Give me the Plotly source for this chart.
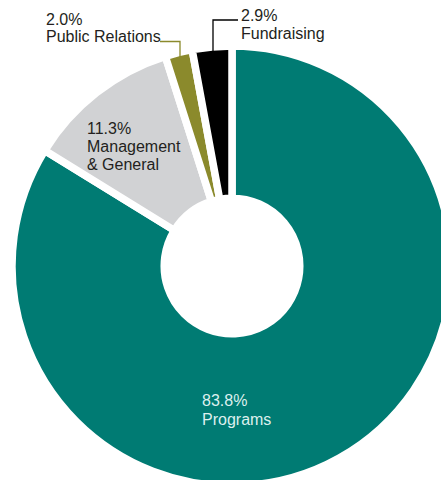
import plotly.graph_objects as go

labels = ["Programs", "Management & General", "Public Relations", "Fundraising"]
values = [83.8, 11.3, 2.0, 2.9]
colors = ["#007B73", "#D1D2D4", "#8B8A2C", "#000000"]

# layout geometry (page pixels)
OFF = 0          # body margin of the page (reset below)
ML, MT, SIDE = 12, 46, 440
W, H = ML + SIDE, MT + SIDE
GAP = 7.5


def px(x):
    return (x - OFF - ML) / SIDE


def py(y):
    return 1 - (y - OFF - MT) / SIDE


fig = go.Figure(go.Pie(
    labels=labels, values=values, sort=False, direction="clockwise", rotation=0,
    hole=0.308, marker=dict(colors=colors, line=dict(color="white", width=GAP)),
    textinfo="none", hoverinfo="label+percent", showlegend=False,
))

FONT = "Liberation Sans"
dark = "#231F20"
light = "#DDF0EE"
text_lines = [
    ("2.0%", 45, 19, dark),
    ("Public Relations", 45, 36, dark),
    ("2.9%", 240, 15.5, dark),
    ("Fundraising", 240, 34, dark),
    ("11.3%", 86, 128.5, dark),
    ("Management", 86, 146, dark),
    ("& General", 86, 164, dark),
    ("83.8%", 201, 400.5, light),
    ("Programs", 201, 419, light),
]
for t, x, y, c in text_lines:
    fig.add_annotation(text=t, x=px(x), y=py(y), xref="paper", yref="paper",
                       xanchor="left", yanchor="middle", showarrow=False,
                       font=dict(family=FONT, size=16, color=c), borderpad=0)

# leader lines
fig.add_shape(type="path", xref="paper", yref="paper",
              path=f"M {px(160)} {py(41.5)} L {px(180)} {py(41.5)} L {px(180)} {py(57)}",
              line=dict(color="#8B8A2C", width=1.3))
fig.add_shape(type="path", xref="paper", yref="paper",
              path=f"M {px(238)} {py(20)} L {px(213)} {py(20)} L {px(213)} {py(52)}",
              line=dict(color="#000000", width=1.3))

fig.update_layout(width=W, height=H, margin=dict(l=ML, r=0, t=MT, b=0),
                  paper_bgcolor="white", plot_bgcolor="white")
fig.write_html("out.html", config={"displayModeBar": False},
               post_script="document.body.style.margin='0';"
                           "document.documentElement.style.overflow='hidden';"
                           "document.body.style.overflow='hidden';")
